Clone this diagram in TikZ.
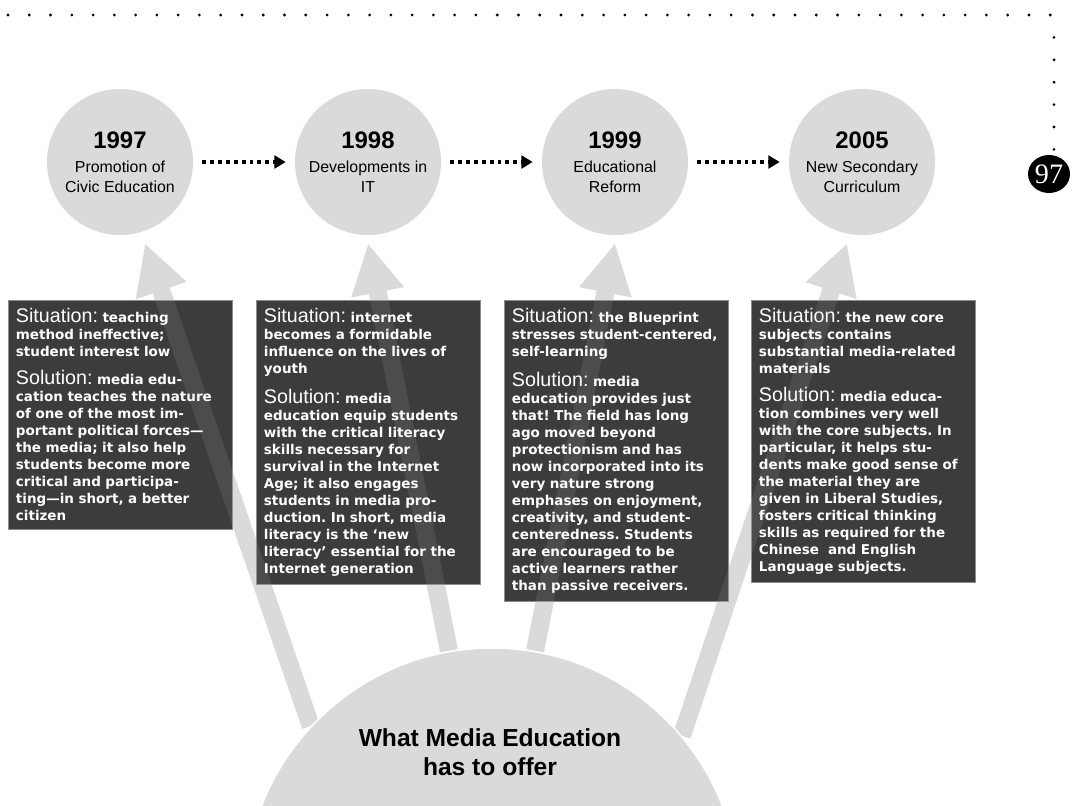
\documentclass[tikz,border=0pt]{standalone}
\usepackage{fontspec}
\setmainfont{Liberation Sans}
\newfontfamily\boxfont{DejaVu Sans}
\newfontfamily\pagefont{Liberation Serif}
\usetikzlibrary{arrows.meta, shapes.geometric, backgrounds}
\definecolor{lightgrey}{HTML}{DADADA}
\definecolor{darkbox}{HTML}{3C3C3C}
\definecolor{boxline}{HTML}{8C8C8C}
\frenchspacing
\newcommand{\boxhead}[1]{{\normalfont\fontsize{14}{12.1}\selectfont #1}}
\tikzset{
  era/.style={circle, fill=lightgrey, minimum size=3.65cm, inner sep=0pt, align=center,
    font=\fontsize{11.3}{14}\selectfont},
  note/.style={anchor=north west, fill=darkbox, draw=boxline, line width=0.6pt, text=white,
    text width=5.225cm, inner xsep=0.1875cm, inner ysep=0.2cm, align=left,
    font=\boxfont\bfseries\fontsize{9.6}{12.1}\selectfont},
  timeline/.style={line width=2.8pt, dash pattern=on 2.8pt off 2.8pt,
    -{Triangle[length=8pt, width=9pt]}, shorten <=0.225cm, shorten >=0.225cm},
  feed/.style={line width=12.8pt, lightgrey, -{Triangle[length=35.5pt, width=35.5pt]}},
}

\begin{document}
\begin{tikzpicture}[x=0.025cm, y=-0.025cm]
	\useasboundingbox (0,0) rectangle (1072,805);

	% page frame
	\foreach \i in {0,...,49}
		\fill (8+21.27*\i, 15) circle[radius=1.1pt];
	\foreach \i in {1,...,6}
		\fill (1054, 15+22.4*\i) circle[radius=1.1pt];
	\node[ellipse, fill=black, text=white, minimum width=1.05cm, minimum height=0.95cm, inner sep=0pt,
		font=\pagefont\fontsize{20}{20}\selectfont] (page) at (1049,174) {97};

	% timeline
	\node[era] (c1) at (120,162) {{\bfseries\fontsize{17}{17}\selectfont 1997}\\[3pt] Promotion of\\ Civic Education};
	\node[era] (c2) at (368,162) {{\bfseries\fontsize{17}{17}\selectfont 1998}\\[3pt] Developments in\\ IT};
	\node[era] (c3) at (615,162) {{\bfseries\fontsize{17}{17}\selectfont 1999}\\[3pt] Educational\\ Reform};
	\node[era] (c4) at (862,162) {{\bfseries\fontsize{17}{17}\selectfont 2005}\\[3pt] New Secondary\\ Curriculum};
	\draw[timeline] (c1) -- (c2);
	\draw[timeline] (c2) -- (c3);
	\draw[timeline] (c3) -- (c4);

	\coordinate (t1) at ([shift={(25,8)}]c1.south);
	\coordinate (t2) at ([shift={(0,8)}]c2.south);
	\coordinate (t3) at ([shift={(0,8)}]c3.south);
	\coordinate (t4) at ([shift={(-15,8)}]c4.south);

	% situation / solution boxes
	\node[note] (s1) at (8,300) {\boxhead{Situation:} teaching\\ method ineffective;\\ student interest low\\[7.8pt]
		\boxhead{Solution:} media edu-\\ cation teaches the nature\\ of one of the most im-\\ portant political forces—\\
		the media; it also help\\ students become more\\ critical and participa-\\ ting—in short, a better\\ citizen};
	\node[note] (s2) at (256,300) {\boxhead{Situation:} internet\\ becomes a formidable\\ influence on the lives of\\ youth\\[7.8pt]
		\boxhead{Solution:} media\\ education equip students\\ with the critical literacy\\ skills necessary for\\
		survival in the Internet\\ Age; it also engages\\ students in media pro-\\ duction. In short, media\\
		literacy is the ‘new\\ literacy’ essential for the\\ Internet generation};
	\node[note] (s3) at (504,300) {\boxhead{Situation:} the Blueprint\\ stresses student-centered,\\ self-learning\\[7.8pt]
		\boxhead{Solution:} media\\ education provides just\\ that! The field has long\\ ago moved beyond\\
		protectionism and has\\ now incorporated into its\\ very nature strong\\ emphases on enjoyment,\\
		creativity, and student-\\ centeredness. Students\\ are encouraged to be\\ active learners rather\\
		than passive receivers.};
	\node[note] (s4) at (751,300) {\boxhead{Situation:} the new core\\ subjects contains\\ substantial media-related\\ materials\\[7.8pt]
		\boxhead{Solution:} media educa-\\ tion combines very well\\ with the core subjects. In\\ particular, it helps stu-\\
		dents make good sense of\\ the material they are\\ given in Liberal Studies,\\ fosters critical thinking\\
		skills as required for the\\ Chinese \ and English\\ Language subjects.};

	% what media education offers
	\node[circle, fill=lightgrey, draw=white, line width=1.2pt, minimum size=12.35cm, inner sep=0pt] (offer) at (492,895) {};
	\node[align=center, font=\bfseries\fontsize{17.5}{21}\selectfont] (offertext) at (490,752) {What Media Education\\has to offer};

	\begin{scope}[on background layer]
		\foreach \a/\t in {137/t1, 100/t2, 80/t3, 40/t4}
			\draw[feed] (offer.\a) -- (\t);
	\end{scope}
	\begin{scope}[opacity=0.1]
		\foreach \a/\t in {137/t1, 100/t2, 80/t3, 40/t4}
			\draw[feed] (offer.\a) -- (\t);
	\end{scope}
\end{tikzpicture}
\end{document}
